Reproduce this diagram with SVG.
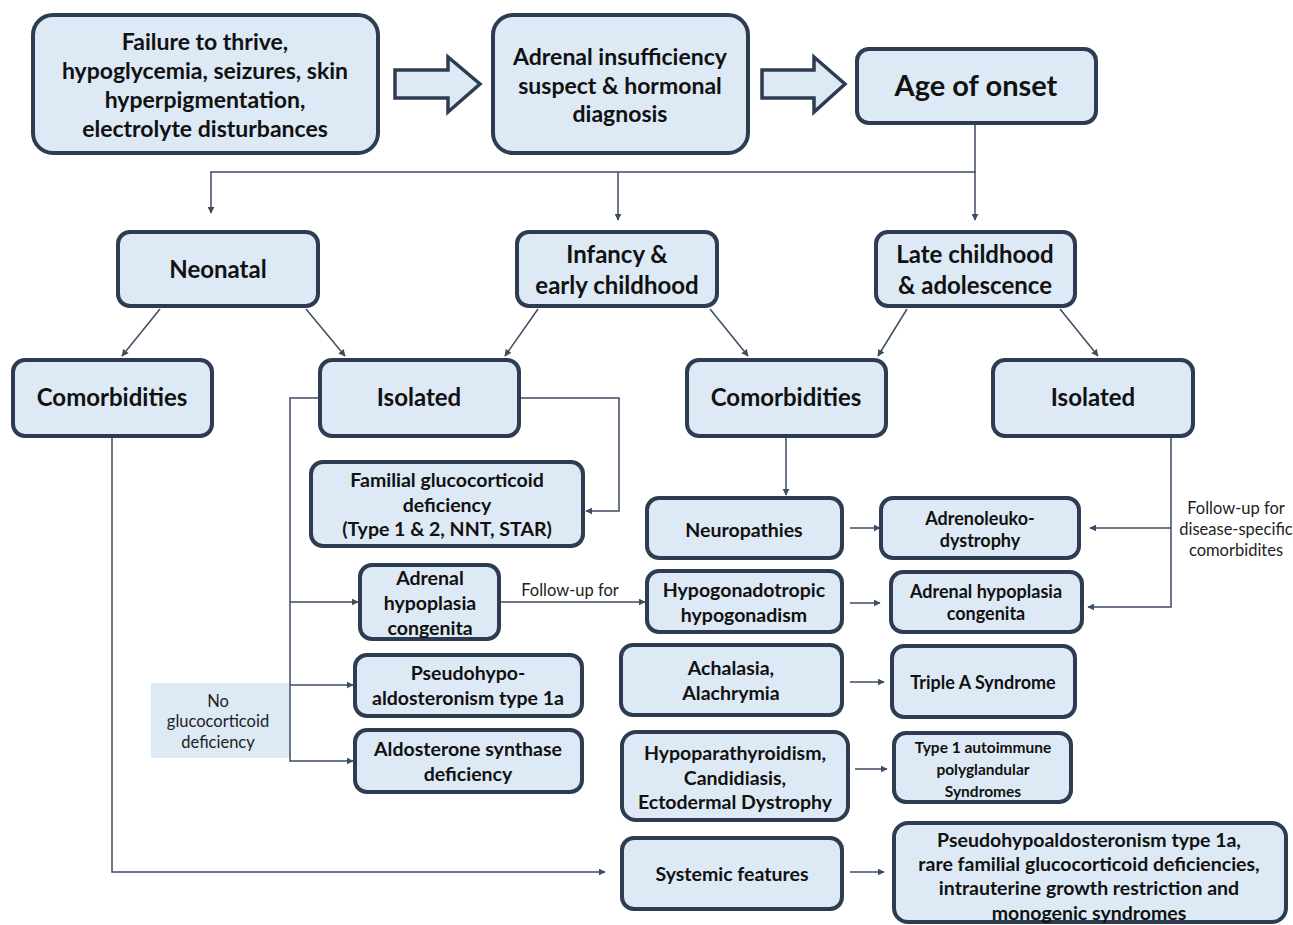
<svg xmlns="http://www.w3.org/2000/svg" width="1293" height="925" viewBox="0 0 1293 925">
<style>
.b{fill:#dde9f5;stroke:#2d3c50;stroke-width:4}
.t{font-family:Lato,"Liberation Sans",sans-serif;font-weight:bold;fill:#111;text-anchor:middle}
.n{font-family:Lato,"Liberation Sans",sans-serif;fill:#222;text-anchor:middle;font-size:16.5px}
.c{fill:none;stroke:#3c4c63;stroke-width:1.5}
.ba{fill:#dde9f5;stroke:#2d3c50;stroke-width:3.5}
</style>
<defs>
<marker id="a" viewBox="0 0 10 10" refX="9" refY="5" markerWidth="7" markerHeight="7" markerUnits="userSpaceOnUse" orient="auto"><path d="M0,0L10,5L0,10z" fill="#3c4c63"/></marker>
</defs>
<rect width="1293" height="925" fill="#fff"/>
<g id="connectors">
<polygon class="ba" points="395,70 448,70 448,57 480,84 448,112 448,98 395,98"/>
<polygon class="ba" points="762,70 814,70 814,57 845,84 814,112 814,98 762,98"/>
<path class="c" d="M975,124V172H211V213" marker-end="url(#a)"/>
<path class="c" d="M618,172V220" marker-end="url(#a)"/>
<path class="c" d="M975,172V220" marker-end="url(#a)"/>
<path class="c" d="M160,309L122,356" marker-end="url(#a)"/>
<path class="c" d="M306,309L345,356" marker-end="url(#a)"/>
<path class="c" d="M538,309L505,356" marker-end="url(#a)"/>
<path class="c" d="M710,309L748,356" marker-end="url(#a)"/>
<path class="c" d="M907,309L878,356" marker-end="url(#a)"/>
<path class="c" d="M1060,309L1098,356" marker-end="url(#a)"/>
<path class="c" d="M320,398H290V761H353" marker-end="url(#a)"/>
<path class="c" d="M290,602H358" marker-end="url(#a)"/>
<path class="c" d="M290,685H353" marker-end="url(#a)"/>
<path class="c" d="M521,398H619V511H586" marker-end="url(#a)"/>
<path class="c" d="M499,602H645" marker-end="url(#a)"/>
<path class="c" d="M786,437V495" marker-end="url(#a)"/>
<path class="c" d="M112,437V872H605" marker-end="url(#a)"/>
<path class="c" d="M1171,437V607H1088" marker-end="url(#a)"/>
<path class="c" d="M1171,528H1090" marker-end="url(#a)"/>
<path class="c" d="M850,528H880" marker-end="url(#a)"/>
<path class="c" d="M850,603H880" marker-end="url(#a)"/>
<path class="c" d="M850,682H884" marker-end="url(#a)"/>
<path class="c" d="M855,769H887" marker-end="url(#a)"/>
<path class="c" d="M850,872H884" marker-end="url(#a)"/>
<text class="n" x="570" y="596">Follow-up  for</text>
<text class="n" x="1236" y="514">Follow-up for</text>
<text class="n" x="1236" y="535">disease-specific</text>
<text class="n" x="1236" y="556">comorbidites</text>
</g>
<g id="failure"><rect class="b" x="33" y="15" width="345" height="138" rx="20"/>
<text class="t" font-size="23"><tspan x="205" y="50">Failure to thrive,</tspan><tspan x="205" y="79">hypoglycemia, seizures, skin</tspan><tspan x="205" y="108">hyperpigmentation,</tspan><tspan x="205" y="137">electrolyte disturbances</tspan></text></g>
<g id="adrenal"><rect class="b" x="493" y="15" width="255" height="138" rx="20"/>
<text class="t" font-size="23"><tspan x="620" y="65">Adrenal insufficiency</tspan><tspan x="620" y="94">suspect &amp; hormonal</tspan><tspan x="620" y="122">diagnosis</tspan></text></g>
<g id="age"><rect class="b" x="857" y="49" width="239" height="74" rx="12"/>
<text class="t" font-size="29" x="976" y="96">Age of onset</text></g>
<g id="neonatal"><rect class="b" x="118" y="232" width="200" height="74" rx="12"/>
<text class="t" font-size="24" x="218" y="278">Neonatal</text></g>
<g id="infancy"><rect class="b" x="517" y="232" width="200" height="74" rx="12"/>
<text class="t" font-size="24"><tspan x="617" y="263">Infancy &amp;</tspan><tspan x="617" y="294">early childhood</tspan></text></g>
<g id="late"><rect class="b" x="876" y="232" width="199" height="74" rx="12"/>
<text class="t" font-size="24"><tspan x="975" y="263">Late childhood</tspan><tspan x="975" y="294">&amp; adolescence</tspan></text></g>
<g id="comorb1"><rect class="b" x="13" y="360" width="199" height="76" rx="12"/>
<text class="t" font-size="24" x="112" y="406">Comorbidities</text></g>
<g id="isolated1"><rect class="b" x="320" y="360" width="199" height="76" rx="12"/>
<text class="t" font-size="24" x="419" y="406">Isolated</text></g>
<g id="comorb2"><rect class="b" x="687" y="360" width="199" height="76" rx="12"/>
<text class="t" font-size="24" x="786" y="406">Comorbidities</text></g>
<g id="isolated2"><rect class="b" x="993" y="360" width="200" height="76" rx="12"/>
<text class="t" font-size="24" x="1093" y="406">Isolated</text></g>
<g id="familial"><rect class="b" x="311" y="462" width="272" height="84" rx="12"/>
<text class="t" font-size="19.5"><tspan x="447" y="487">Familial glucocorticoid</tspan><tspan x="447" y="512">deficiency</tspan><tspan x="447" y="536">(Type 1 &amp; 2, NNT, STAR)</tspan></text></g>
<g id="ahc1"><rect class="b" x="360" y="565" width="139" height="74" rx="12"/>
<text class="t" font-size="19.5"><tspan x="430" y="585">Adrenal</tspan><tspan x="430" y="610">hypoplasia</tspan><tspan x="430" y="635">congenita</tspan></text></g>
<g id="nogc"><rect x="151" y="683" width="138" height="75" fill="#dde9f5"/>
<text class="n"><tspan x="218" y="707">No</tspan><tspan x="218" y="727">glucocorticoid</tspan><tspan x="218" y="748">deficiency</tspan></text></g>
<g id="pha"><rect class="b" x="355" y="655" width="227" height="61" rx="12"/>
<text class="t" font-size="19.5"><tspan x="468" y="680">Pseudohypo-</tspan><tspan x="468" y="705">aldosteronism type 1a</tspan></text></g>
<g id="ald"><rect class="b" x="355" y="730" width="227" height="62" rx="12"/>
<text class="t" font-size="19.5"><tspan x="468" y="756">Aldosterone synthase</tspan><tspan x="468" y="781">deficiency</tspan></text></g>
<g id="neuro"><rect class="b" x="647" y="498" width="195" height="60" rx="12"/>
<text class="t" font-size="19.5" x="744" y="537">Neuropathies</text></g>
<g id="ald2"><rect class="b" x="881" y="498" width="198" height="60" rx="12"/>
<text class="t" font-size="18"><tspan x="980" y="525">Adrenoleuko-</tspan><tspan x="980" y="547">dystrophy</tspan></text></g>
<g id="hypogon"><rect class="b" x="647" y="571" width="195" height="61" rx="12"/>
<text class="t" font-size="19.5"><tspan x="744" y="597">Hypogonadotropic</tspan><tspan x="744" y="622">hypogonadism</tspan></text></g>
<g id="ahc2"><rect class="b" x="891" y="572" width="191" height="60" rx="12"/>
<text class="t" font-size="18"><tspan x="986" y="598">Adrenal hypoplasia</tspan><tspan x="986" y="620">congenita</tspan></text></g>
<g id="achalasia"><rect class="b" x="621" y="645" width="221" height="70" rx="12"/>
<text class="t" font-size="19.5"><tspan x="731" y="675">Achalasia,</tspan><tspan x="731" y="700">Alachrymia</tspan></text></g>
<g id="triplea"><rect class="b" x="892" y="646" width="183" height="71" rx="12"/>
<text class="t" font-size="18" x="983" y="689">Triple A Syndrome</text></g>
<g id="hypopara"><rect class="b" x="622" y="732" width="226" height="88" rx="14"/>
<text class="t" font-size="19.5"><tspan x="735" y="760">Hypoparathyroidism,</tspan><tspan x="735" y="785">Candidiasis,</tspan><tspan x="735" y="809">Ectodermal Dystrophy</tspan></text></g>
<g id="aps1"><rect class="b" x="894" y="733" width="177" height="69" rx="12"/>
<text class="t" font-size="15.5"><tspan x="983" y="753">Type 1 autoimmune</tspan><tspan x="983" y="775">polyglandular</tspan><tspan x="983" y="797">Syndromes</tspan></text></g>
<g id="systemic"><rect class="b" x="622" y="838" width="220" height="71" rx="12"/>
<text class="t" font-size="19.5" x="732" y="881">Systemic features</text></g>
<g id="phaRare"><rect class="b" x="894" y="823" width="392" height="99" rx="14"/>
<text class="t" font-size="19.5"><tspan x="1089" y="847">Pseudohypoaldosteronism type 1a,</tspan><tspan x="1089" y="871">rare familial glucocorticoid deficiencies,</tspan><tspan x="1089" y="895">intrauterine growth restriction and</tspan><tspan x="1089" y="920">monogenic syndromes</tspan></text></g>
</svg>
